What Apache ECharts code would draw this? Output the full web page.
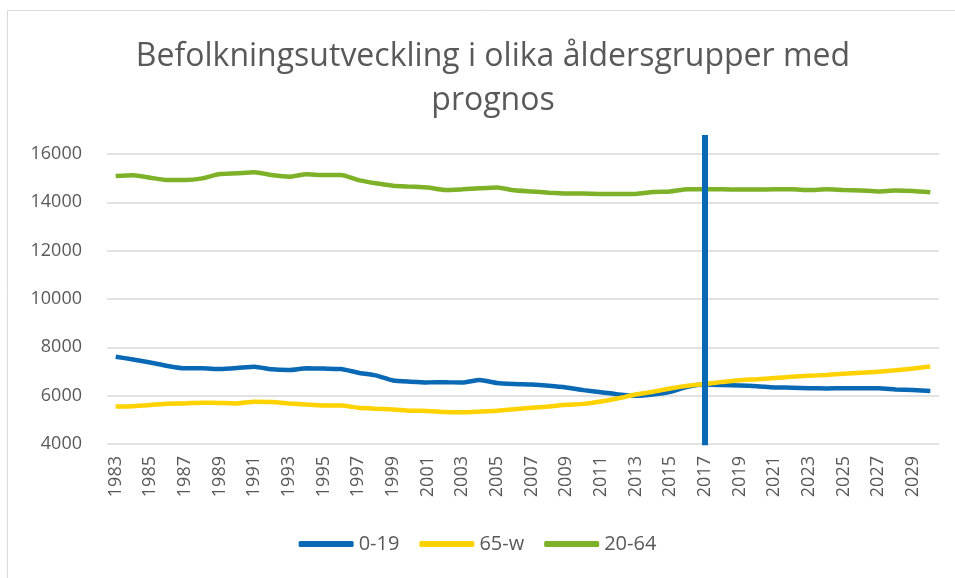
<!DOCTYPE html>
<html>
<head>
<meta charset="utf-8">
<script src="https://cdn.jsdelivr.net/npm/echarts@6/dist/echarts.min.js"></script>
<style>
  html, body { margin: 0; padding: 0; background: #fff; }
  #chart { width: 955px; height: 578px; }
</style>
</head>
<body>
<div id="chart"></div>
<script>
// år 1983-2030
var years = ['1983','1984','1985','1986','1987','1988','1989','1990','1991','1992',
  '1993','1994','1995','1996','1997','1998','1999','2000','2001','2002',
  '2003','2004','2005','2006','2007','2008','2009','2010','2011','2012',
  '2013','2014','2015','2016','2017','2018','2019','2020','2021','2022',
  '2023','2024','2025','2026','2027','2028','2029','2030'];

var age0_19 = [7610,7500,7370,7230,7130,7130,7100,7140,7200,7090,
  7060,7130,7120,7100,6950,6840,6630,6580,6550,6560,
  6540,6650,6520,6480,6460,6410,6340,6230,6140,6050,
  6000,6050,6160,6370,6460,6440,6420,6390,6340,6330,
  6310,6300,6310,6310,6310,6260,6230,6190];

var age65_w = [5550,5560,5610,5670,5680,5710,5700,5680,5750,5740,
  5680,5630,5590,5590,5500,5460,5430,5380,5370,5320,
  5310,5340,5380,5440,5500,5550,5620,5660,5760,5890,
  6050,6160,6300,6410,6480,6570,6640,6680,6730,6780,
  6820,6860,6910,6950,6990,7050,7120,7210];

var age20_64 = [15090,15120,15020,14920,14920,14990,15170,15200,15240,15130,
  15060,15160,15130,15130,14920,14790,14690,14650,14610,14510,
  14540,14580,14610,14500,14450,14400,14370,14370,14350,14350,
  14350,14430,14450,14540,14540,14540,14530,14530,14540,14540,
  14510,14540,14510,14490,14450,14490,14470,14420];

// prognosstreck vid 2017
var prognosYear = '2017';
var prognosRange = [3950, 16790];

var chart = echarts.init(document.getElementById('chart'));
var txt = '#595959';
var option = {
  animation: false,
  textStyle: { fontFamily: 'Open Sans' },
  graphic: [{
    type: 'rect',
    shape: { x: 7.5, y: 10.5, width: 1000, height: 700 },
    style: { fill: 'none', stroke: '#d9d9d9', lineWidth: 1 },
    silent: true
  }],
  title: {
    text: 'Befolkningsutveckling i olika åldersgrupper med\nprognos',
    left: 488,
    textAlign: 'center',
    top: 30,
    textStyle: { fontSize: 32, fontWeight: 'normal', color: txt, lineHeight: 44, fontFamily: 'Open Sans' }
  },
  legend: {
    data: ['0-19', '65-w', '20-64'],
    bottom: 19,
    left: 'center',
    icon: 'roundRect',
    itemWidth: 55,
    itemHeight: 6,
    itemGap: 20,
    textStyle: { fontSize: 20, color: txt }
  },
  grid: { left: 107, right: 16, top: 154, bottom: 134 },
  xAxis: {
    type: 'category',
    data: years,
    axisLine: { show: false },
    axisTick: { show: false },
    axisLabel: { interval: 1, rotate: 90, fontSize: 18, color: txt, margin: 12 }
  },
  yAxis: {
    type: 'value',
    min: 4000,
    max: 16000,
    interval: 2000,
    axisLabel: { fontSize: 18, color: txt, margin: 25, formatter: function (v) { return String(v); } },
    splitLine: { lineStyle: { color: '#d9d9d9', width: 1.5 } }
  },
  series: [
    { name: '0-19', type: 'line', data: age0_19, showSymbol: false, smooth: 0.2,
      color: '#0a69b4', lineStyle: { width: 4.5, color: '#0a69b4' } },
    { name: '65-w', type: 'line', data: age65_w, showSymbol: false, smooth: 0.2,
      color: '#ffd200', lineStyle: { width: 4.5, color: '#ffd200' } },
    { name: '20-64', type: 'line', data: age20_64, showSymbol: false, smooth: 0.2,
      color: '#7db127', lineStyle: { width: 4.5, color: '#7db127' } },
    { name: 'prognos', type: 'line', clip: false, showSymbol: false, z: 5,
      data: [[prognosYear, prognosRange[0]], [prognosYear, prognosRange[1]]],
      lineStyle: { width: 6, color: '#0a69b4', cap: 'butt' } }
  ]
};
chart.setOption(option);
window.addEventListener('resize', function () { chart.resize(); });
</script>
</body>
</html>
